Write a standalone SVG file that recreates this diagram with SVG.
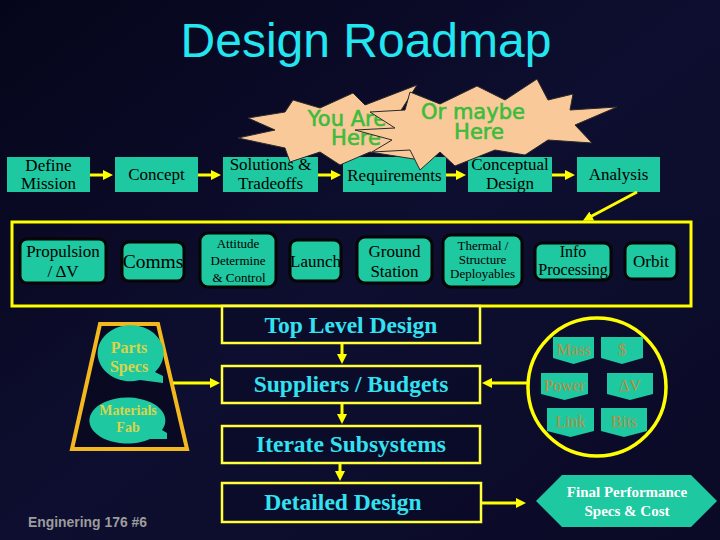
<svg xmlns="http://www.w3.org/2000/svg" width="720" height="540" viewBox="0 0 720 540">
<defs>
<linearGradient id="bg" x1="0" y1="0" x2="1" y2="1">
<stop offset="0" stop-color="#05051a"/>
<stop offset="0.5" stop-color="#0e0e30"/>
<stop offset="1" stop-color="#0a0a26"/>
</linearGradient>
<marker id="ah" viewBox="0 0 10 10" refX="2" refY="5" markerWidth="10" markerHeight="11" markerUnits="userSpaceOnUse" orient="auto">
<path d="M0,0 L10,5 L0,10 z" fill="#ffff00"/>
</marker>
<style>
.t1{fill:#1ec8a0;}
.t2{fill:#1ec8a0;stroke:#050505;stroke-width:3;}
.serif{font-family:"Liberation Serif","Times New Roman",serif;fill:#000;text-anchor:middle;}
.cbox{fill:#0a0a28;fill-opacity:0.6;stroke:#ffff3c;stroke-width:2.5;}
.ctxt{font-family:"Liberation Serif","Times New Roman",serif;font-weight:bold;font-size:23.5px;fill:#33e2f0;text-anchor:middle;}
.conn{stroke:#ffff00;stroke-width:3;fill:none;}
.star{fill:#f9c99a;stroke:#2a2a2a;stroke-width:1;}
.star-txt{font-family:"DejaVu Sans",sans-serif;font-size:21px;fill:#3cbc3c;stroke:#3cbc3c;stroke-width:0.6;text-anchor:middle;}
.tag{fill:#1ec8a0;}
.tagtxt{font-family:"Liberation Serif","Times New Roman",serif;font-size:16px;fill:#c48a3c;text-anchor:middle;}
.bub{fill:#1ec8a0;}
.bubtxt{font-family:"Liberation Serif","Times New Roman",serif;font-weight:bold;fill:#d8d44c;text-anchor:middle;}
</style>
</defs>
<rect x="0" y="0" width="720" height="540" fill="url(#bg)"/>

<text id="title" x="366" y="57" font-family="'Liberation Sans',Arial,sans-serif" font-size="48" fill="#22e6f0" text-anchor="middle">Design Roadmap</text>

<!-- Row 1 -->
<g id="define-mission"><rect class="t1" x="7" y="157" width="83" height="35"/><text class="serif" font-size="17" x="48.5" y="171">Define</text><text class="serif" font-size="17" x="48.5" y="189">Mission</text></g>
<g id="concept"><rect class="t1" x="115" y="157" width="83" height="35"/><text class="serif" font-size="17" x="156.5" y="180">Concept</text></g>
<g id="solutions"><rect class="t1" x="223" y="157" width="95" height="35"/><text class="serif" font-size="17" x="270.5" y="170">Solutions &amp;</text><text class="serif" font-size="17" x="270.5" y="189">Tradeoffs</text></g>
<g id="requirements"><rect class="t1" x="343" y="157" width="103" height="35"/><text class="serif" font-size="17" x="394.5" y="181">Requirements</text></g>
<g id="conceptual-design"><rect class="t1" x="468" y="157" width="84" height="35"/><text class="serif" font-size="17" x="510" y="170">Conceptual</text><text class="serif" font-size="17" x="510" y="189">Design</text></g>
<g id="analysis"><rect class="t1" x="577" y="157" width="83" height="35"/><text class="serif" font-size="17" x="618.5" y="180">Analysis</text></g>

<!-- Starbursts -->
<g id="you-are-here">
<polygon class="star" points="238,138 275,130 248,118 285,112 293,100 320,108 353,93 365,105 417,85 400,112 420,125 405,140 420,160 370,152 340,165 320,152 290,162 285,148"/>
<text class="star-txt"><tspan x="347" y="126">You Are</tspan><tspan x="356" y="145">Here</tspan></text>
</g>
<g id="or-maybe-here">
<polygon class="star" points="355,130 395,128 370,112 405,110 410,92 440,104 477,86 505,100 537,79 548,100 573,94 570,110 617,107 575,125 592,143 548,140 525,155 495,150 455,166 440,152 420,170 410,150 372,152 392,140"/>
<text class="star-txt" font-size="22"><tspan x="473" y="119">Or maybe</tspan><tspan x="479" y="139">Here</tspan></text>
</g>

<!-- Subsystem frame -->
<rect id="subsystem-frame" x="12" y="222" width="679" height="84" fill="none" stroke="#ffff00" stroke-width="3"/>
<g id="propulsion"><rect class="t2" x="20" y="239" width="86" height="44" rx="7"/><text class="serif" font-size="17" x="63" y="257">Propulsion</text><text class="serif" font-size="17" x="63" y="277">/ ΔV</text></g>
<g id="comms"><rect class="t2" x="122" y="242" width="62" height="39" rx="7"/><text class="serif" font-size="19.5" x="153" y="268">Comms</text></g>
<g id="attitude"><rect class="t2" x="200" y="233" width="76" height="54" rx="8"/><text class="serif" font-size="13" x="238" y="248">Attitude</text><text class="serif" font-size="13" x="238" y="265">Determine</text><text class="serif" font-size="13" x="239" y="282">&amp; Control</text></g>
<g id="launch"><rect class="t2" x="290" y="240" width="51" height="41" rx="7"/><text class="serif" font-size="17" x="315.5" y="267">Launch</text></g>
<g id="ground-station"><rect class="t2" x="357" y="237" width="75" height="46" rx="8"/><text class="serif" font-size="17" x="394.5" y="257">Ground</text><text class="serif" font-size="17" x="394.5" y="277">Station</text></g>
<g id="thermal"><rect class="t2" x="443" y="235" width="79" height="52" rx="8"/><text class="serif" font-size="13" x="483" y="250">Thermal /</text><text class="serif" font-size="13" x="482.5" y="264">Structure</text><text class="serif" font-size="13" x="482.5" y="278">Deployables</text></g>
<g id="info-processing"><rect class="t2" x="535" y="243" width="76" height="37" rx="7"/><text class="serif" font-size="16" x="573" y="257">Info</text><text class="serif" font-size="16" x="573" y="275">Processing</text></g>
<g id="orbit"><rect class="t2" x="625" y="243" width="52" height="36" rx="7"/><text class="serif" font-size="17" x="651" y="267">Orbit</text></g>

<!-- Central column -->
<g id="top-level-design"><rect class="cbox" x="222" y="306" width="258" height="37"/><text class="ctxt" x="351" y="333">Top Level Design</text></g>
<g id="suppliers-budgets"><rect class="cbox" x="222" y="366" width="258" height="37"/><text class="ctxt" x="351" y="392">Suppliers / Budgets</text></g>
<g id="iterate-subsystems"><rect class="cbox" x="222" y="426" width="258" height="37"/><text class="ctxt" x="351" y="452">Iterate Subsystems</text></g>
<g id="detailed-design"><rect class="cbox" x="222" y="483" width="259" height="39"/><text class="ctxt" x="343" y="510">Detailed Design</text></g>

<!-- Parts trapezoid -->
<g id="parts-materials">
<polygon points="100,324 158,324 187,449 72,449" fill="#06061a" fill-opacity="0.6" stroke="#f2b81e" stroke-width="4"/>
<g id="parts-specs"><path class="bub" d="M140,380 A33,28 0 1 1 155,372 L163,376 L163,383 Z"/><text class="bubtxt" font-size="16" x="129" y="353">Parts</text><text class="bubtxt" font-size="16" x="129" y="372">Specs</text></g>
<g id="materials-fab"><path class="bub" d="M150,439 A38,23 0 1 1 162,430 L167,433 L167,439 Z"/><text class="bubtxt" font-size="14" x="128" y="415">Materials</text><text class="bubtxt" font-size="14" x="128" y="432">Fab</text></g>
</g>

<!-- Budget circle -->
<g id="budget-circle">
<circle cx="597" cy="387" r="69" fill="none" stroke="#ffff00" stroke-width="3.5"/>
<g id="mass"><path class="tag" d="M553,337 H594 V358 L573.5,364 L553,358 Z"/><text class="tagtxt" x="573.5" y="355">Mass</text></g>
<g id="dollar"><path class="tag" d="M601,337 H643 V358 L622,364 L601,358 Z"/><text class="tagtxt" x="622" y="355">$</text></g>
<g id="power"><path class="tag" d="M541,373 H588 V394 L564.5,400 L541,394 Z"/><text class="tagtxt" x="564.5" y="391">Power</text></g>
<g id="delta-v"><path class="tag" d="M607,373 H653 V394 L630,400 L607,394 Z"/><text class="tagtxt" x="630" y="391">ΔV</text></g>
<g id="link"><path class="tag" d="M547,408 H594 V431 L570.5,437 L547,431 Z"/><text class="tagtxt" x="570.5" y="427">Link</text></g>
<g id="bits"><path class="tag" d="M601,408 H647 V431 L624,437 L601,431 Z"/><text class="tagtxt" x="624" y="427">Bits</text></g>
</g>

<!-- Final hexagon -->
<g id="final-performance">
<polygon points="536,501 562,475 691,475 717,501 691,527 562,527" fill="#1ec8a0"/>
<text x="627" y="497" font-family="'Liberation Serif','Times New Roman',serif" font-weight="bold" font-size="15" fill="#ffffff" text-anchor="middle">Final Performance</text>
<text x="627" y="516" font-family="'Liberation Serif','Times New Roman',serif" font-weight="bold" font-size="15" fill="#ffffff" text-anchor="middle">Specs &amp; Cost</text>
</g>

<!-- Connectors -->
<g id="connectors">
<line class="conn" x1="90" y1="175" x2="105" y2="175" marker-end="url(#ah)"/>
<line class="conn" x1="198" y1="175" x2="213" y2="175" marker-end="url(#ah)"/>
<line class="conn" x1="318" y1="175" x2="333" y2="175" marker-end="url(#ah)"/>
<line class="conn" x1="446" y1="175" x2="458" y2="175" marker-end="url(#ah)"/>
<line class="conn" x1="552" y1="175" x2="567" y2="175" marker-end="url(#ah)"/>
<line class="conn" x1="637" y1="192" x2="590" y2="217" marker-end="url(#ah)"/>
<line class="conn" x1="342" y1="344" x2="342" y2="356" marker-end="url(#ah)"/>
<line class="conn" x1="342" y1="404" x2="342" y2="416" marker-end="url(#ah)"/>
<line class="conn" x1="340" y1="464" x2="340" y2="473" marker-end="url(#ah)"/>
<line class="conn" x1="173" y1="383" x2="212" y2="383" marker-end="url(#ah)"/>
<line class="conn" x1="528" y1="383" x2="490" y2="383" marker-end="url(#ah)"/>
<line class="conn" x1="482" y1="503" x2="518" y2="503" marker-end="url(#ah)"/>
</g>

<text id="footer" x="28" y="527" font-family="'Liberation Sans',Arial,sans-serif" font-weight="bold" font-size="14" fill="#9c9c9c" textLength="119" lengthAdjust="spacingAndGlyphs">Enginering 176 #6</text>
</svg>
